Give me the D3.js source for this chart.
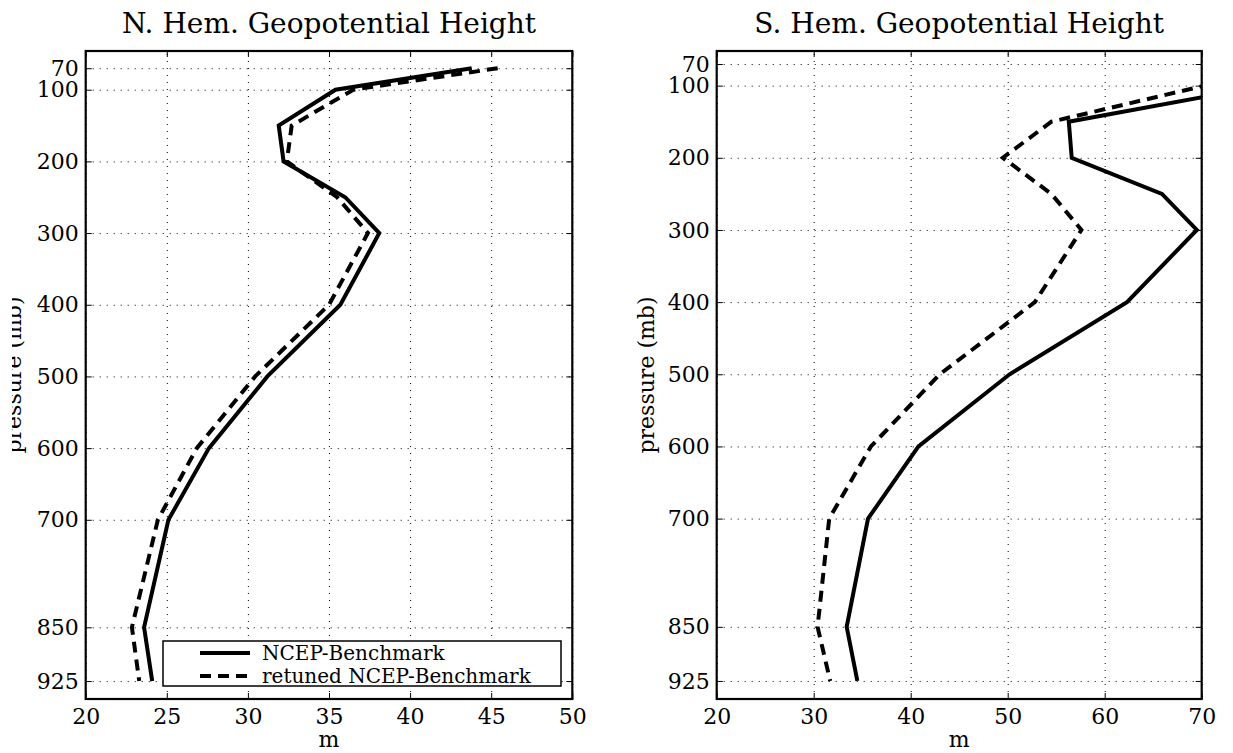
<!DOCTYPE html>
<html>
<head>
<meta charset="utf-8">
<script src="https://cdn.jsdelivr.net/npm/d3@7"></script>
<style>
  body { margin: 0; background: #fff; }
  svg { display: block; font-family: "DejaVu Serif", serif; }
  .grid line { stroke: #000; stroke-width: 1; stroke-dasharray: 1,6; }
  .grid .domain { display: none; }
</style>
</head>
<body>
<div id="chart"></div>
<script>
// pressure levels (mb) shared by every profile
const pressureLevels = [70, 100, 150, 200, 250, 300, 400, 500, 600, 700, 850, 925];

// N. Hem. geopotential height error (m)
const nhBenchmark = [43.8, 35.4, 31.9, 32.2, 36.0, 38.1, 35.7, 31.2, 27.6, 25.1, 23.6, 24.1];
const nhRetuned   = [45.4, 36.5, 32.7, 32.4, 35.5, 37.4, 35.0, 30.45, 26.85, 24.45, 22.85, 23.3];

// S. Hem. geopotential height error (m) -- top values run off the x limit
const shBenchmark = [80.0, 76.6, 56.3, 56.6, 65.9, 69.5, 62.3, 50.2, 40.8, 35.6, 33.4, 34.5];
const shRetuned   = [78.0, 70.3, 54.5, 49.5, 54.5, 57.6, 52.8, 43.0, 35.9, 31.6, 30.4, 31.7];

const yTicks = [70, 100, 200, 300, 400, 500, 600, 700, 850, 925];
const nhXTicks = [20, 25, 30, 35, 40, 45, 50];
const shXTicks = [20, 30, 40, 50, 60, 70];

const seriesNames = ["NCEP-Benchmark", "retuned NCEP-Benchmark"];

const W = 1233, H = 753;
const svg = d3.select("#chart").append("svg")
    .attr("width", W)
    .attr("height", H);

const plotTop = 51, plotBottom = 699;

// the left y label is cut off by the figure edge in the original
svg.append("clipPath").attr("id", "ylab-clip")
  .append("rect").attr("x", 12).attr("y", 0).attr("width", 60).attr("height", H);

function drawPanel(opts) {
    const width = opts.right - opts.left;
    const height = plotBottom - plotTop;

    const x = d3.scaleLinear().domain(opts.xDomain).range([0, width]);
    const y = d3.scaleLinear().domain(opts.yDomain).range([0, height]);

    const g = svg.append("g")
        .attr("transform", "translate(" + opts.left + "," + plotTop + ")");

    // clip for the profiles
    g.append("clipPath").attr("id", opts.id + "-clip")
      .append("rect").attr("width", width).attr("height", height);

    // dotted grid
    g.append("g").attr("class", "grid")
        .call(d3.axisLeft(y).tickValues(yTicks).tickSize(-width).tickFormat(""));
    g.append("g").attr("class", "grid")
        .attr("transform", "translate(0," + height + ")")
        .call(d3.axisBottom(x).tickValues(opts.xTicks).tickSize(-height).tickFormat(""));

    // lines
    const line = d3.line()
        .x(d => x(d[0]))
        .y(d => y(d[1]));

    const profiles = [opts.bench, opts.retuned];
    profiles.forEach((vals, i) => {
        g.append("path")
            .datum(vals.map((v, j) => [v, pressureLevels[j]]))
            .attr("clip-path", "url(#" + opts.id + "-clip)")
            .attr("fill", "none")
            .attr("stroke", "#000")
            .attr("stroke-width", 4)
            .attr("stroke-dasharray", i === 1 ? "11,7" : null)
            .attr("d", line);
    });

    // axes with inward ticks
    const yAxis = g.append("g")
        .call(d3.axisLeft(y).tickValues(yTicks).tickSizeInner(-6).tickSizeOuter(0).tickPadding(7));
    const xAxis = g.append("g")
        .attr("transform", "translate(0," + height + ")")
        .call(d3.axisBottom(x).tickValues(opts.xTicks).tickSizeInner(-6).tickSizeOuter(0).tickPadding(9));
    g.append("g")
        .attr("transform", "translate(" + width + ",0)")
        .call(d3.axisRight(y).tickValues(yTicks).tickSizeInner(-6).tickSizeOuter(0).tickFormat(""));
    g.append("g")
        .call(d3.axisTop(x).tickValues(opts.xTicks).tickSizeInner(-6).tickSizeOuter(0).tickFormat(""));

    g.selectAll(".domain").remove();
    g.selectAll(".tick line").attr("stroke", "#000").attr("stroke-width", 1);
    [yAxis, xAxis].forEach(a => a.selectAll("text")
        .style("font-family", "DejaVu Serif")
        .style("font-size", "22px")
        .attr("fill", "#000"));

    // frame
    g.append("rect")
        .attr("width", width).attr("height", height)
        .attr("fill", "none").attr("stroke", "#000").attr("stroke-width", 2.2);

    // title
    g.append("text")
        .attr("x", width / 2).attr("y", 33 - plotTop)
        .attr("text-anchor", "middle")
        .style("font-size", "28px")
        .text(opts.title);

    // x label
    g.append("text")
        .attr("x", width / 2).attr("y", 747 - plotTop)
        .attr("text-anchor", "middle")
        .style("font-size", "22px")
        .text("m");

    // y label
    const ylWrap = svg.append("g")
        .attr("clip-path", opts.clipLabel ? "url(#ylab-clip)" : null);
    ylWrap.append("text")
        .attr("transform", "translate(" + opts.yLabelX + ",375) rotate(-90)")
        .attr("text-anchor", "middle")
        .style("font-size", "22px")
        .text("pressure (mb)");

    return { g, x, y, width, height };
}

drawPanel({
    id: "nh", left: 85.7, right: 572.3,
    xDomain: [20, 50], yDomain: [46, 950], xTicks: nhXTicks,
    bench: nhBenchmark, retuned: nhRetuned,
    title: "N. Hem. Geopotential Height",
    yLabelX: 21, clipLabel: true
});

drawPanel({
    id: "sh", left: 716.7, right: 1201.7,
    xDomain: [20, 70], yDomain: [52, 950], xTicks: shXTicks,
    bench: shBenchmark, retuned: shRetuned,
    title: "S. Hem. Geopotential Height",
    yLabelX: 654, clipLabel: false
});

// legend in the N. Hem. panel
const legend = svg.append("g").attr("transform", "translate(163,641)");
legend.append("rect")
    .attr("width", 398).attr("height", 45)
    .attr("fill", "#fff").attr("stroke", "#000").attr("stroke-width", 1.5);
seriesNames.forEach((name, i) => {
    const ly = 12 + i * 23;
    legend.append("line")
        .attr("x1", 37).attr("x2", 87).attr("y1", ly).attr("y2", ly)
        .attr("stroke", "#000").attr("stroke-width", 4)
        .attr("stroke-dasharray", i === 1 ? "11,7" : null);
    legend.append("text")
        .attr("x", 99).attr("y", ly).attr("dy", "0.35em")
        .style("font-size", "20px")
        .text(name);
});
</script>
</body>
</html>
